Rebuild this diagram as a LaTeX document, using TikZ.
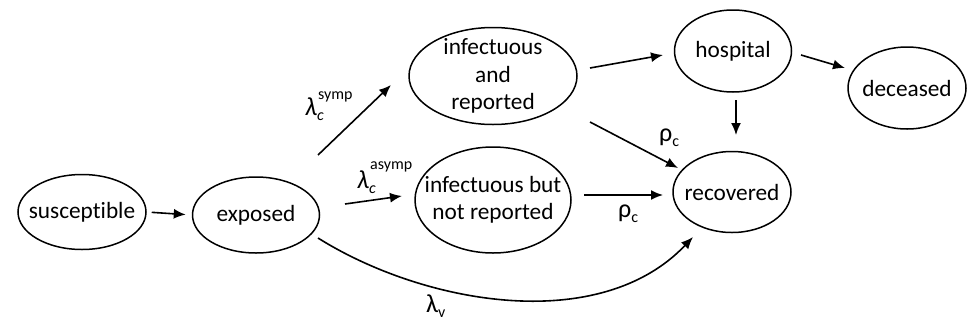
\documentclass[tikz,border=0pt]{standalone}
\usepackage{fontspec}
\setmainfont{Carlito}[Ligatures={NoCommon}]
\usetikzlibrary{shapes.geometric,arrows.meta}
\newcommand\lsub[1]{\raisebox{-0.2em}{\fontsize{16}{16}\selectfont #1}}
\tikzset{
  state/.style={draw, ellipse, line width=1.5pt, inner xsep=-60pt, inner ysep=-40pt, align=center,
    font=\fontsize{23.3}{27.5}\selectfont},
  flow/.style={line width=1.6pt, -{Latex[length=12pt,width=10pt]}},
  lbl/.style={inner sep=0pt, anchor=base west, font=\fontsize{26}{26}\selectfont},
  suplbl/.style={inner sep=0pt, anchor=base west, font=\fontsize{16}{16}\selectfont},
}
\begin{document}
\begin{tikzpicture}[x=1pt,y=-1pt]
\useasboundingbox (0,0) rectangle (968,327);
\node[state, minimum width=128pt, minimum height=75pt] (sus) at (82,212) {susceptible};
\node[state, minimum width=127pt, minimum height=76pt] (exp) at (256,215) {exposed};
\node[state, minimum width=168pt, minimum height=97pt] (infr) at (493,76) {infectuous\\and\\reported};
\node[state, minimum width=156pt, minimum height=106pt] (infn) at (493,200) {infectuous but\\not reported};
\node[state, minimum width=117pt, minimum height=82pt] (hosp) at (733,51) {hospital};
\node[state, minimum width=118pt, minimum height=82pt] (dec) at (907,88) {deceased};
\node[state, minimum width=118pt, minimum height=81pt] (rec) at (732,192) {recovered};

\draw[flow, shorten <=5pt, shorten >=6pt] (sus.east) -- (exp.west);
\draw[flow] ([shift={(62,-60)}]exp.center) -- ([shift={(-102,9)}]infr.center);
\draw[flow] ([shift={(89,-11)}]exp.center) -- ([shift={(-91,-4)}]infn.center);
\draw[flow] ([shift={(97,-8)}]infr.center) -- ([shift={(-70,4)}]hosp.center);
\draw[flow] ([shift={(97,46)}]infr.center) -- ([shift={(-54,-24)}]rec.center);
\draw[flow] ([shift={(91,-5)}]infn.center) -- ([shift={(-69,3)}]rec.center);
\draw[flow] ([shift={(3,49)}]hosp.center) -- ([shift={(4,-57)}]rec.center);
\draw[flow] ([shift={(68,4)}]hosp.center) -- ([shift={(-62,-20)}]dec.center);
\draw[flow] ([shift={(62,23)}]exp.center) .. controls (425,305) and (600,335) .. ([shift={(-39,45)}]rec.center);

\node[lbl] (lsymp) at (305,115) {\textit{λ}\lsub{\textit{c}}};
\node[suplbl] (symp) at (318,99) {symp};
\node[lbl] (lasymp) at (357,188) {\textit{λ}\lsub{\textit{c}}};
\node[suplbl] (asymp) at (370,169) {asymp};
\node[lbl] (rho1) at (659,141) {ρ\lsub{c}};
\node[lbl] (rho2) at (618,217) {ρ\lsub{c}};
\node[lbl] (lv) at (426,312) {λ\lsub{v}};
\end{tikzpicture}
\end{document}
